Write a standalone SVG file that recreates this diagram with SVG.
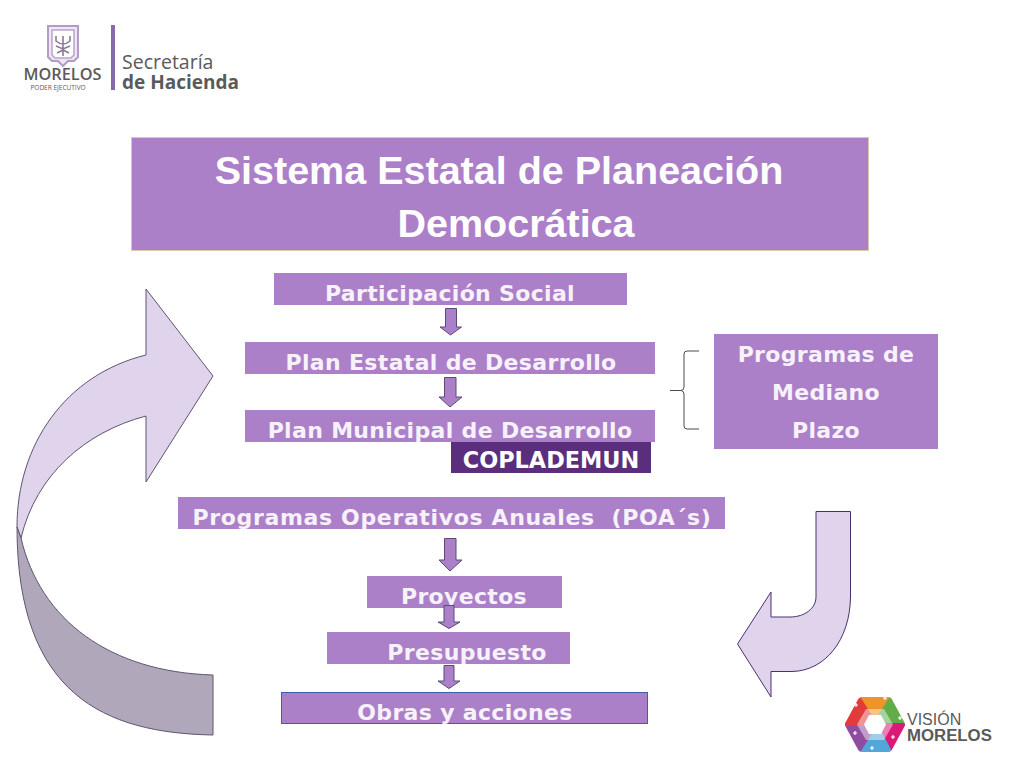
<svg xmlns="http://www.w3.org/2000/svg" width="1024" height="768" viewBox="0 0 1024 768">
<style>
.box{fill:#ab80c9}
.t{font-family:"DejaVu Sans",Verdana,sans-serif;font-size:22px;font-weight:700;letter-spacing:.33px;fill:#f7f2fa;text-anchor:middle;white-space:pre}
.h{font-family:"Liberation Sans",Arial,sans-serif;font-size:39.500px;font-weight:700;fill:#fff;text-anchor:middle}
.dn{fill:#ab80c9;stroke:#5b4a78;stroke-width:1}
.big{fill:#e0d4ec;stroke:#5f5470;stroke-width:1}
.lg{font-family:"Open Sans","DejaVu Sans",sans-serif;fill:#5a5a5a}
.pl{fill:none;stroke:#fff;stroke-width:1.200}
.seg{stroke-linejoin:round;stroke-width:4}
</style>
<rect width="1024" height="768" fill="#fff"/>
<g id="logo-hacienda">
<path d="M48 26H78V57L74 61H68L63 66L58 61H52L48 57Z" fill="#eee6f3" stroke="#b49cc8" stroke-width="2"/>
<path d="M52 30H74V55L71 58H55L52 55Z" fill="#fff" stroke="#b9a3cb" stroke-width="1.500"/>
<path d="M63 36V56M56 36V41Q63 47 70 41V36M56 46L63 49L70 46M57 53L63 50L69 53" fill="none" stroke="#8d7a99" stroke-width="1.600"/>
<text class="lg" x="62.500" y="80" font-size="16.300" font-weight="600" text-anchor="middle">MORELOS</text>
<text class="lg" x="58" y="90" font-size="6.500" text-anchor="middle">PODER EJECUTIVO</text>
<rect x="111" y="25" width="4" height="65" fill="#8a6aa6"/>
<text class="lg" x="122" y="69" font-size="19.500">Secretaría</text>
<text class="lg" x="122" y="89" font-size="19" font-weight="700">de Hacienda</text>
</g>
<g id="title">
<rect x="131.500" y="137.500" width="737" height="113" fill="#ab80c9" stroke="#dcc9ae"/>
<text class="h" x="499" y="184">Sistema Estatal de Planeación</text>
<text class="h" x="516" y="237">Democrática</text>
</g>
<g id="participacion"><rect class="box" x="274" y="273" width="353" height="32"/><text class="t" x="450" y="301">Participación Social</text></g>
<g id="plan-estatal"><rect class="box" x="245" y="342" width="410" height="32"/><text class="t" x="451" y="370">Plan Estatal de Desarrollo</text></g>
<g id="plan-municipal"><rect class="box" x="245" y="410" width="410" height="32"/><text class="t" x="450" y="438">Plan Municipal de Desarrollo</text></g>
<g id="coplademun"><rect x="451" y="442" width="200" height="31" fill="#5a2e7c"/><text x="551" y="468" font-family="DejaVu Sans,sans-serif" font-size="22.400" font-weight="700" fill="#fff" text-anchor="middle">COPLADEMUN</text></g>
<g id="programas-mediano"><rect class="box" x="714" y="334" width="224" height="115"/><text class="t" x="826" y="362">Programas de</text><text class="t" x="826" y="400">Mediano</text><text class="t" x="826" y="438">Plazo</text></g>
<g id="poa"><rect class="box" x="178" y="497" width="547" height="32"/><text class="t" x="452" y="525" style="letter-spacing:.65px">Programas Operativos Anuales  (POA´s)</text></g>
<g id="proyectos"><rect class="box" x="367" y="576" width="195" height="32"/><text class="t" x="464" y="604">Proyectos</text></g>
<g id="presupuesto"><rect class="box" x="327" y="632" width="243" height="32"/><text class="t" x="467" y="660">Presupuesto</text></g>
<g id="obras"><rect class="box" x="281.500" y="692.500" width="366" height="31" stroke="#3f5fa8"/><text class="t" x="465" y="720">Obras y acciones</text></g>
<g id="connectors">
<path class="big" id="loop-upper" d="M146 289L213 376L146 482V416C85 432 36 475 21 538L17 527C17 445 65 375 146 355Z"/>
<path id="loop-lower" d="M17 527C17 695 105 733 213 735V675C110 672 40 620 21 538Z" fill="#b1a7ba" stroke="#5f5470"/>
<path class="big" id="return-arrow" style="stroke:#4a3070" d="M816 511.500H850.500V597C850 640 825 671 792 671.500H771V697L737.500 644L771 592V617H790C805 617 816 608 816 597Z"/>
<path class="dn" d="M445.500 308.500H456.500V327H461.500L450.500 335L440 327H445.500Z"/>
<path class="dn" d="M444.500 377.500H456V397H462L450 407L439 397H444.500Z"/>
<path class="dn" d="M444.500 538.500H456V560H462L450 571L439 560H444.500Z"/>
<path class="dn" d="M444 605.500H454V622H460L449 628.500L438 622H444Z"/>
<path class="dn" d="M444 665.500H454V681H460L449 688.500L438 681H444Z"/>
<path d="M699 351H687Q684 351 684 354V387Q684 390 681 390.500H670H681Q684 391 684 394V426Q684 429 687 429H699" fill="none" stroke="#4a4a4a" stroke-width="1"/>
</g>
<g id="logo-vision">
<path class="seg" d="M861 699H889L880 716H870Z" fill="#ef942b" stroke="#ef942b"/>
<path class="seg" d="M890 700L903 724H885L880 716Z" fill="#60ad49" stroke="#60ad49"/>
<path class="seg" d="M903 725L890 749L880 733L885 725Z" fill="#d91a76" stroke="#d91a76"/>
<path class="seg" d="M889 750H861L870 733H880Z" fill="#53a6d9" stroke="#53a6d9"/>
<path class="seg" d="M860 749L847 725H865L870 733Z" fill="#8e4d9f" stroke="#8e4d9f"/>
<path class="seg" d="M847 724L860 700L870 716L865 724Z" fill="#e23b3b" stroke="#e23b3b"/>
<path d="M866 709H884L893 724.500L884 740H866L857 724.500Z" fill="#fff" opacity=".45"/>
<path d="M869 715H881L886 724.500L881 734H869L864 724.500Z" fill="#fff"/>
<path class="pl" d="M885 696v4M883 698h4M900 716v4M898 718h4M893 735v4M891 737h4M872 746v4M870 748h4M855 731v4M853 733h4M856 703v4M854 705h4"/>
<text x="907" y="725" font-family="Liberation Sans,sans-serif" font-size="16" fill="#5a5a5a">VISIÓN</text>
<text x="907" y="741" font-family="Liberation Sans,sans-serif" font-size="16.800" font-weight="700" fill="#5a5a5a">MORELOS</text>
</g>
</svg>
